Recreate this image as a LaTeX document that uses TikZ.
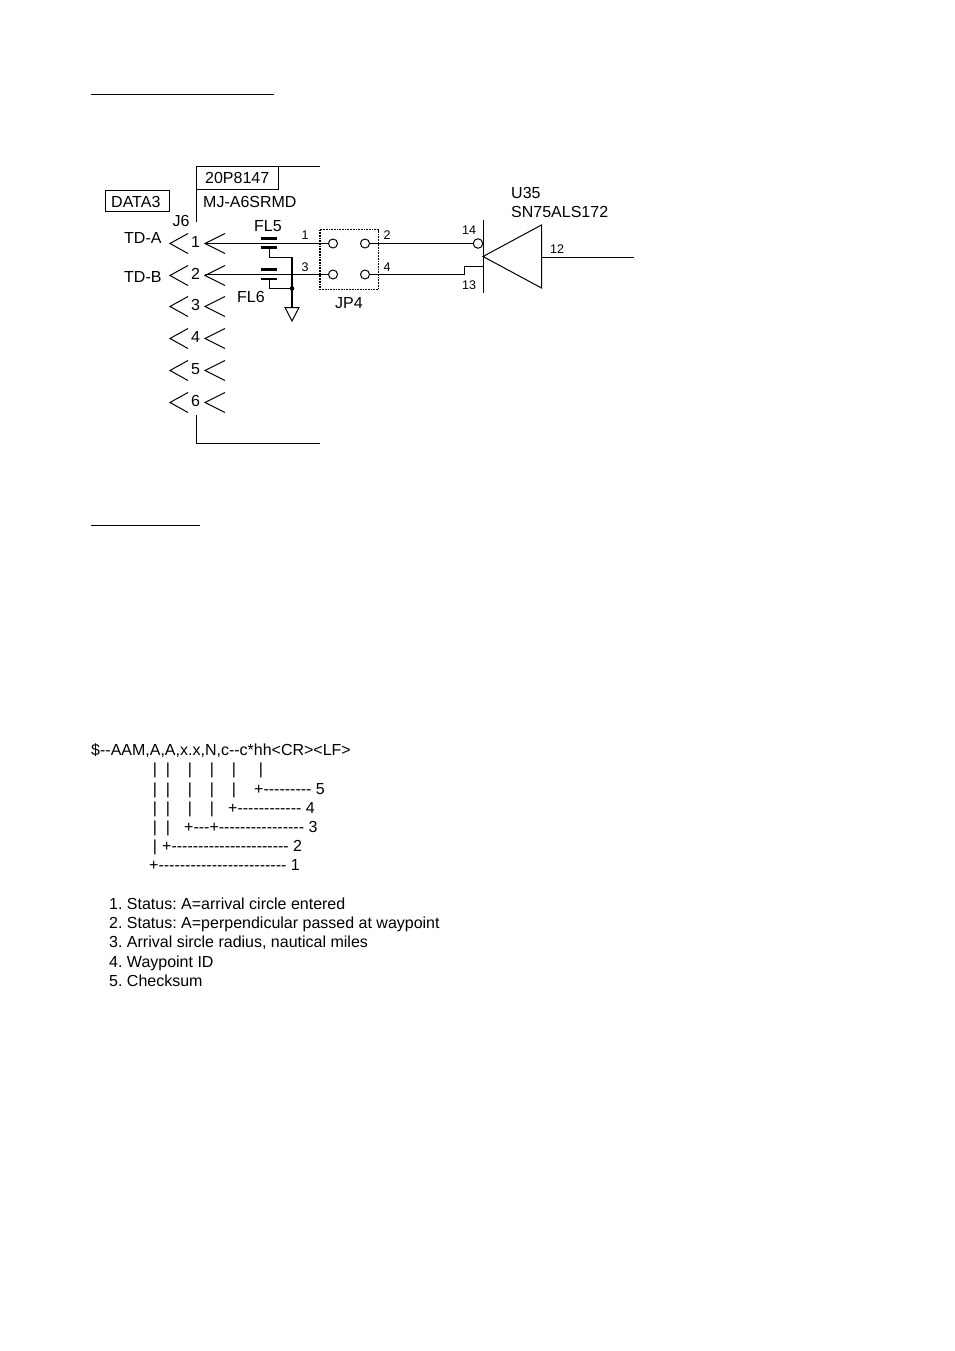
\documentclass[tikz,border=0pt]{standalone}
\usepackage{fontspec}
\defaultfontfeatures[\rmfamily]{}
\setmainfont{Liberation Sans}[Ligatures=ResetAll]
\tikzset{
  txt/.style={inner sep=0pt,anchor=base west,font=\fontsize{16}{18}\selectfont\frenchspacing},
  ctxt/.style={inner sep=0pt,anchor=base,font=\fontsize{16}{18}\selectfont},
  pin/.style={inner sep=0pt,anchor=base,font=\fontsize{12.5}{14}\selectfont},
  wire/.style={line width=1pt,line cap=butt},
  heavy/.style={line width=1.6pt},
  filterbar/.style={line width=2.2pt},
  contact/.style={circle,draw,line width=1pt,minimum size=9pt,inner sep=0pt},
  rule/.style={line width=1pt},
}
\begin{document}
\begin{tikzpicture}[x=1pt,y=-1pt]
\useasboundingbox (0,0) rectangle (954,1351);
\fill[white] (0,0) rectangle (954,1351);
% blank headings' underlines
\coordinate (h1a) at (91,94.5); \coordinate (h1b) at (274,94.5);
\coordinate (h2a) at (91,525.5); \coordinate (h2b) at (200,525.5);
\draw[rule] (h1a) -- (h1b);
\draw[rule] (h2a) -- (h2b);
% connector outline
\coordinate (ct1) at (196.5,166.5); \coordinate (ct2) at (320,166.5);
\coordinate (ct3) at (196.5,222); \coordinate (ct4) at (196.5,415);
\coordinate (ct5) at (196.5,443.5); \coordinate (ct6) at (320,443.5);
\draw[wire] (ct3) -- (ct1) -- (ct2);
\draw[wire] (ct4) -- (ct5) -- (ct6);
\draw[wire] (196.5,189.5) -- (278.5,189.5) -- (278.5,166.5);
\node[txt] (pn) at (205,183) {20P8147};
\node[txt] (type) at (203,207.4) {MJ-A6SRMD};
\draw[wire] (105.5,190.5) rectangle (169.5,211.5);
\node[txt] (data) at (111,207.4) {DATA3};
\node[ctxt] (j6) at (181,226) {J6};
\node[txt] (tda) at (124,243) {TD-A};
\node[txt] (tdb) at (124,282) {TD-B};
% connector pins
\foreach \n/\y in {1/243.5,2/275.5,3/306.5,4/338.5,5/370.5,6/402.5}{
  \node[ctxt] (n\n) at (195.5,\y+3.5) {\n};
  \draw[wire] (188,\y-10) -- (170,\y) -- (188,\y+10);
  \draw[wire] (225,\y-10) -- (205,\y) -- (225,\y+10);
  \coordinate (p\n) at (205,\y);
}
% jumper
\node[contact] (c1) at (333,243.5) {};
\node[contact] (c2) at (365,243.5) {};
\node[contact] (c3) at (333,274.5) {};
\node[contact] (c4) at (365,274.5) {};
\draw[line width=1.7pt,densely dotted] (320,229.5) rectangle (378.5,289.5);
\node[ctxt] (jp) at (349,308) {JP4};
% wires to jumper
\draw[wire] (p1) -- (c1);
\draw[wire] (205,274.5) -- (c3);
% filters
\coordinate (f5) at (269.5,248); \coordinate (f6) at (269.5,279.5);
\draw[filterbar] (261,238.5) -- (277,238.5);
\draw[filterbar] (261,247.5) -- (277,247.5);
\draw[filterbar] (261,269.5) -- (277,269.5);
\draw[filterbar] (261,279) -- (277,279);
\node[ctxt] (fl5) at (268,231) {FL5};
\node[ctxt] (fl6) at (251,302) {FL6};
\coordinate (gt) at (292,307);
\coordinate (dot) at (292,288.5);
\draw[wire] (f5) |- (292,257.5);
\draw[wire] (f6) |- (dot);
\draw[heavy] (292,257) -- (gt);
\fill (dot) circle (2.3);
\draw[wire] (285,307.5) -- (299,307.5) -- (292,321) -- cycle;
% IC
\coordinate (b1) at (483.5,220); \coordinate (b2) at (483.5,293);
\draw[wire] (b1) -- (b2);
\coordinate (ta) at (483,256.5); \coordinate (tt) at (541.5,225); \coordinate (tb) at (541.5,288);
\draw[wire,line join=miter] (ta) -- (tt) -- (tb) -- cycle;
\coordinate (out) at (634,257.5);
\draw[wire] (541.5,257.5) -- (out);
\node[contact,minimum size=9.5pt] (inv) at (478,243.5) {};
\draw[wire] (c2) -- (inv);
\draw[wire] (c4) -- (464.5,274.5) -- (464.5,266.5) -- (483.5,266.5);
\node[txt] (u35) at (511,198) {U35};
\node[txt] (sn) at (511,218) {SN75ALS172};
% pin numbers
\node[pin] (l1) at (305,239) {1};
\node[pin] (l3) at (305,271) {3};
\node[pin] (l2) at (387,239) {2};
\node[pin] (l4) at (387,271) {4};
\node[pin] (l14) at (469,234) {14};
\node[pin] (l13) at (469,289) {13};
\node[pin] (l12) at (557,253) {12};
% sentence
\node[txt] (s0) at (91,755) {\$--AAM,A,A,x.x,N,c--c*hh<CR><LF>};
\foreach \x in {155,168,190,212,234,261}{\node[ctxt] at (\x,774) {|};}
\foreach \x in {155,168,190,212,234}{\node[ctxt] at (\x,794) {|};}
\foreach \x in {155,168,190,212}{\node[ctxt] at (\x,813) {|};}
\foreach \x in {155,168}{\node[ctxt] at (\x,832) {|};}
\node[ctxt] at (155,851) {|};
\node[txt] (s5) at (254,794) {+--------- 5};
\node[txt] (s4) at (228,813) {+------------ 4};
\node[txt] (s3) at (184,832) {+---+---------------- 3};
\node[txt] (s2) at (162,851) {+---------------------- 2};
\node[txt] (s1) at (149,870) {+------------------------ 1};
% list
\node[txt] (i1) at (109,909) {1. Status: A=arrival circle entered};
\node[txt] (i2) at (109,928) {2. Status: A=perpendicular passed at waypoint};
\node[txt] (i3) at (109,947) {3. Arrival sircle radius, nautical miles};
\node[txt] (i4) at (109,967) {4. Waypoint ID};
\node[txt] (i5) at (109,986) {5. Checksum};
\end{tikzpicture}
\end{document}
